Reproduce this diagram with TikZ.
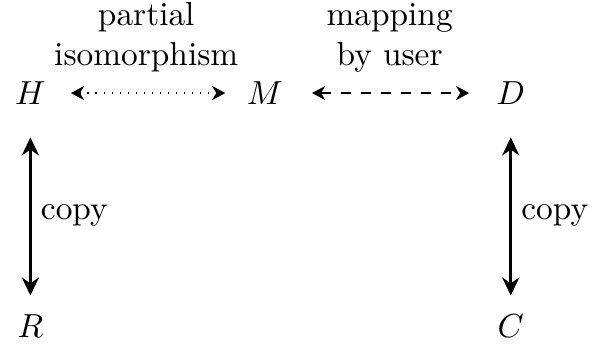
\documentclass[tikz,border=0pt]{standalone}
\usepackage{tikz}
\usepackage{amsmath}
\usetikzlibrary{
  arrows.meta,
  positioning,
  calc
}
\tikzset{
  objnode/.style={inner sep=1.2mm, font=\normalsize},
  dotlink/.style={{Stealth[length=1.4mm, width=1.5mm]}-{Stealth[length=1.4mm, width=1.5mm]}, dotted, shorten <=1.4mm, shorten >=1mm},
  dashlink/.style={{Stealth[length=1.4mm, width=1.5mm]}-{Stealth[length=1.4mm, width=1.5mm]}, dashed, shorten <=1.8mm, shorten >=1.6mm},
  copylink/.style={{Stealth[length=1.9mm, width=1.8mm]}-{Stealth[length=1.9mm, width=1.8mm]}, line width=0.95pt, shorten <=2.2mm, shorten >=0.8mm},
  tag/.style={font=\normalsize, align=center, inner sep=1pt}
}
\begin{document}
\begin{tikzpicture}
  \useasboundingbox (0,0) rectangle (6.32,3.69);
  \node[objnode] (H) at (0.32,2.71) {$H$};
  \node[objnode] (M) at (2.79,2.71) {$M$};
  \node[objnode] (D) at (5.38,2.71) {$D$};
  \node[objnode] (R) at (0.32,0.25) {$R$};
  \node[objnode] (C) at (5.38,0.25) {$C$};
  % top row
  \draw[dotlink] (H) -- node[tag, above=1.8mm] {partial\\isomorphism} (M);
  \draw[dashlink] (M) -- node[tag, above=1.8mm] {mapping\\by user} (D);
  % copies
  \draw[copylink] (H) -- node[tag, right=0.6mm, yshift=-0.6mm] {copy} (R);
  \draw[copylink] (D) -- node[tag, right=0.6mm, yshift=-0.6mm] {copy} (C);
\end{tikzpicture}
\end{document}
